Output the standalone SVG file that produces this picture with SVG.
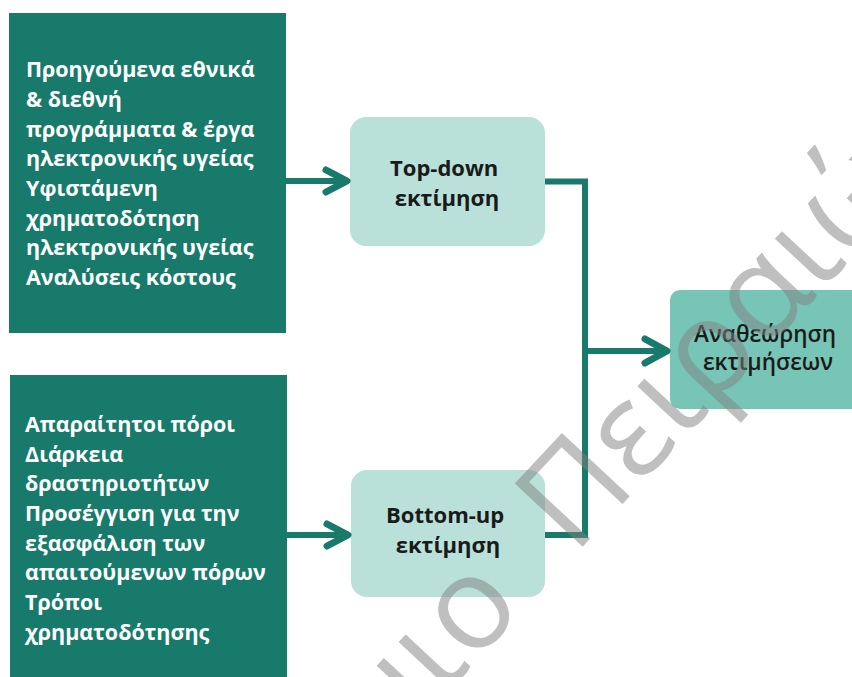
<svg xmlns="http://www.w3.org/2000/svg" width="852" height="677" viewBox="0 0 852 677">
  <style>
    .src { fill: #187a6b; }
    .est { fill: #b9e0d9; }
    .rev { fill: #77c5b6; }
    .srcText { font-family: "Open Sans", "Liberation Sans", sans-serif; font-weight: 700; font-size: 21.5px; fill: #ffffff; }
    .estText { font-family: "Open Sans", "Liberation Sans", sans-serif; font-weight: 700; font-size: 22px; fill: #1a1a1a; text-anchor: middle; }
    .revText { font-family: "Open Sans", "Liberation Sans", sans-serif; font-weight: 600; font-size: 22.5px; fill: #1a1a1a; text-anchor: middle; }
    .wire { fill: none; stroke: #187a6b; stroke-width: 6; }
    .head { fill: none; stroke: #187a6b; stroke-width: 7; stroke-linecap: round; stroke-linejoin: round; }
    .mark { font-family: "Open Sans", "Liberation Sans", sans-serif; font-weight: 400; font-size: 130px; fill: #808080; fill-opacity: 0.5; }
  </style>

  <!-- source panels -->
  <g id="sources-top">
    <rect class="src" x="9" y="13" width="277" height="320"/>
    <text class="srcText">
      <tspan x="26" y="77">Προηγούμενα εθνικά</tspan>
      <tspan x="26" y="107">&amp; διεθνή</tspan>
      <tspan x="26" y="137">προγράμματα &amp; έργα</tspan>
      <tspan x="26" y="166">ηλεκτρονικής υγείας</tspan>
      <tspan x="26" y="196">Υφιστάμενη</tspan>
      <tspan x="26" y="226">χρηματοδότηση</tspan>
      <tspan x="26" y="255">ηλεκτρονικής υγείας</tspan>
      <tspan x="26" y="285">Αναλύσεις κόστους</tspan>
    </text>
  </g>

  <g id="sources-bottom">
    <rect class="src" x="10" y="375" width="277" height="310"/>
    <text class="srcText">
      <tspan x="25" y="432">Απαραίτητοι πόροι</tspan>
      <tspan x="25" y="462">Διάρκεια</tspan>
      <tspan x="25" y="491">δραστηριοτήτων</tspan>
      <tspan x="25" y="521">Προσέγγιση για την</tspan>
      <tspan x="25" y="551">εξασφάλιση των</tspan>
      <tspan x="25" y="580">απαιτούμενων πόρων</tspan>
      <tspan x="25" y="610">Τρόποι</tspan>
      <tspan x="25" y="640">χρηματοδότησης</tspan>
    </text>
  </g>

  <!-- estimate nodes -->
  <g id="top-down">
    <rect class="est" x="350" y="117" width="195" height="129" rx="16"/>
    <text class="estText">
      <tspan x="447" y="176">Top-down</tspan>
      <tspan x="447" y="206">εκτίμηση</tspan>
    </text>
  </g>

  <g id="bottom-up">
    <rect class="est" x="351" y="470" width="194" height="127" rx="16"/>
    <text class="estText">
      <tspan x="448" y="523">Bottom-up</tspan>
      <tspan x="448" y="553">εκτίμηση</tspan>
    </text>
  </g>

  <g id="review">
    <rect class="rev" x="670" y="290" width="200" height="119" rx="10"/>
    <text class="revText">
      <tspan x="768" y="342">Αναθεώρηση</tspan>
      <tspan x="768" y="370">εκτιμήσεων</tspan>
    </text>
  </g>

  <!-- connectors -->
  <g id="connectors">
    <path class="wire" d="M286 181 H347"/>
    <path class="head" d="M326 170 L347 181 L326 192"/>
    <path class="wire" d="M287 535 H348"/>
    <path class="head" d="M327 524 L348 535 L327 546"/>
    <path class="wire" d="M545 181.5 H585 V535 H545"/>
    <path class="wire" d="M585 351 H667"/>
    <path class="head" d="M645 339 L667 351 L645 363"/>
  </g>

  <!-- diagonal watermark -->
  <g id="watermark">
    <text class="mark" transform="translate(574 556) rotate(-47)">
      <tspan x="-37" y="0" text-anchor="end">Πανεπιστήμιο</tspan>
      <tspan x="0" y="0" text-anchor="start">Πειραιώς</tspan>
    </text>
  </g>
</svg>
